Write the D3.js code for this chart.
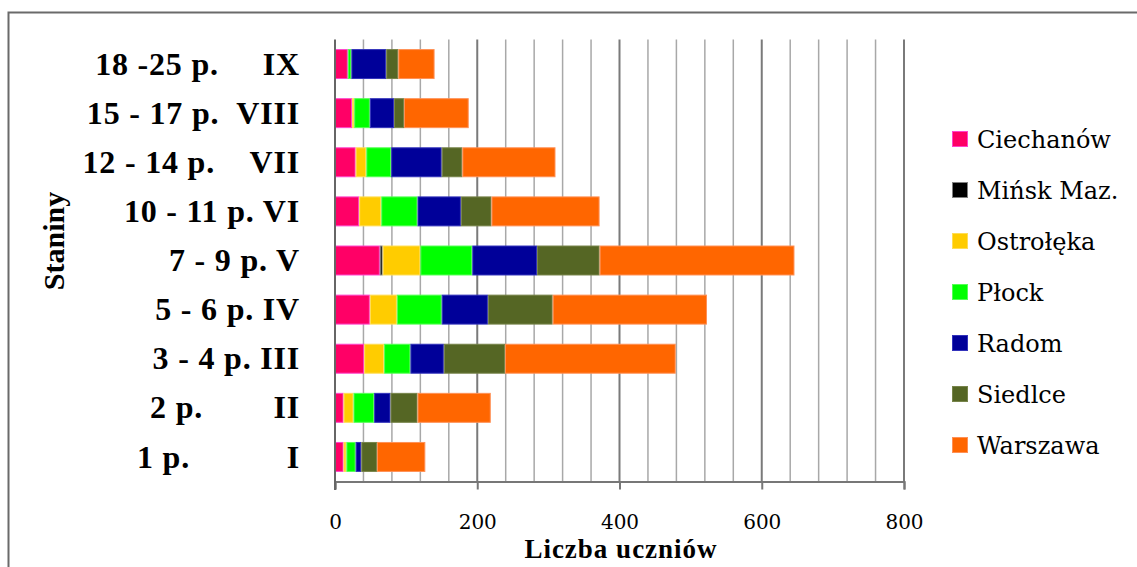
<!DOCTYPE html>
<html>
<head>
<meta charset="utf-8">
<script src="https://cdn.jsdelivr.net/npm/d3@7"></script>
<style>
  body { margin: 0; background: #fff; }
  svg text { font-family: "Liberation Serif", "DejaVu Serif", "Times New Roman", serif; }
  svg text.reg { font-family: "DejaVu Serif", serif; }
</style>
</head>
<body>
<div id="chart"></div>
<script>
const width = 1137, height = 567;

// categories, top to bottom
const categories = [
  "18 -25 p.     IX",
  "15 - 17 p.  VIII",
  "12 - 14 p.    VII",
  "10 - 11 p. VI",
  "7 - 9 p. V",
  "5 - 6 p. IV",
  "3 - 4 p. III",
  "2 p.        II",
  "1 p.           I"
];
const seriesNames = ["Ciechanów", "Mińsk Maz.", "Ostrołęka", "Płock", "Radom", "Siedlce", "Warszawa"];

// values per series, same order as categories (IX .. I)
const ciechanow = [18, 24, 29, 34, 63, 49, 41, 12, 12];
const minsk     = [0, 0, 0, 0, 4, 0, 0, 0, 0];
const ostroleka = [0, 3, 15, 31, 53, 38, 28, 14, 4];
const plock     = [5, 22, 35, 51, 73, 63, 37, 29, 13];
const radom     = [49, 34, 71, 61, 91, 65, 47, 23, 8];
const siedlce   = [17, 14, 29, 43, 88, 91, 86, 38, 22];
const warszawa  = [51, 91, 131, 152, 274, 217, 240, 103, 68];

const xTicks = [0, 200, 400, 600, 800];

const colors  = ["#FF0066", "#000000", "#FFCC00", "#00FF00", "#000099", "#556624", "#FF6600"];
const strokes = ["#FF44CC", "#808080", "#FFDD55", "#55FF55", "#3333BB", "#77844A", "#FF9055"];

const seriesValues = [ciechanow, minsk, ostroleka, plock, radom, siedlce, warszawa];

const table = categories.map((c, i) => {
  const row = { cat: c };
  seriesNames.forEach((s, j) => row[s] = seriesValues[j][i]);
  return row;
});
const stacked = d3.stack().keys(seriesNames)(table);

const svg = d3.select("#chart")
  .append("svg")
  .attr("width", width)
  .attr("height", height);

// outer frame (only top and left visible)
svg.append("path")
  .attr("d", "M8.5,567 V12.5 H1137")
  .attr("fill", "none")
  .attr("stroke", "#6a6a6a")
  .attr("stroke-width", 2);

const x = d3.scaleLinear().domain([0, 800]).range([335, 904]);
const y = d3.scaleBand().domain(categories).range([39.5, 481.5])
  .paddingInner(0.39).paddingOuter(0.195);

// gridlines every 40
const grid = d3.range(40, 801, 40);
svg.append("g").selectAll("line")
  .data(grid)
  .enter()
  .append("line")
  .attr("x1", d => x(d)).attr("x2", d => x(d))
  .attr("y1", 39.5).attr("y2", 481.5)
  .attr("stroke", d => d % 200 === 0 ? "#7a7a7a" : "#a8a8a8")
  .attr("stroke-width", d => d % 200 === 0 ? 2 : 1.5);

// bars
svg.append("g").selectAll("g")
  .data(stacked)
  .enter()
  .append("g")
  .attr("fill", (d, i) => colors[i])
  .attr("stroke", (d, i) => strokes[i])
  .selectAll("rect")
  .data(d => d.filter(p => p[1] - p[0] > 0))
  .enter()
  .append("rect")
  .attr("x", d => x(d[0]) + 0.5)
  .attr("y", d => y(d.data.cat) + 0.5)
  .attr("width", d => Math.max(0, x(d[1]) - x(d[0]) - 1))
  .attr("height", y.bandwidth() - 1)
  .attr("stroke-width", 1);

// x axis
const xAxis = svg.append("g")
  .attr("transform", "translate(0,481.5)")
  .call(d3.axisBottom(x).tickValues(xTicks).tickSize(8).tickPadding(25).tickFormat(d3.format("d")));
xAxis.attr("font-family", null);
xAxis.select(".domain").attr("stroke", "#777").attr("stroke-width", 2);
xAxis.selectAll(".tick line").attr("stroke", "#777").attr("stroke-width", 2);
xAxis.selectAll(".tick text")
  .attr("class", "reg")
  .attr("font-size", 20)
  .attr("fill", "#000");

// y axis
const yAxis = svg.append("g")
  .attr("transform", "translate(335,0)")
  .call(d3.axisLeft(y).tickSize(0).tickPadding(35));
yAxis.attr("font-family", null);
yAxis.select(".domain").attr("stroke", "#666").attr("stroke-width", 2)
  .attr("d", "M0,39.5V490");
yAxis.selectAll(".tick text")
  .attr("font-size", 32)
  .attr("font-weight", "bold")
  .attr("fill", "#000")
  .style("white-space", "pre")
  .style("letter-spacing", "0.8px")
  .attr("dy", "0.33em");

// axis titles
svg.append("text")
  .attr("x", 621).attr("y", 558)
  .attr("text-anchor", "middle")
  .attr("font-size", 27)
  .attr("font-weight", "bold")
  .style("letter-spacing", "1px")
  .text("Liczba uczniów");

svg.append("text")
  .attr("transform", "translate(64,241) rotate(-90)")
  .attr("text-anchor", "middle")
  .attr("font-size", 30)
  .attr("font-weight", "bold")
  .text("Staniny");

// legend
const legend = svg.append("g").selectAll("g")
  .data(seriesNames)
  .enter()
  .append("g")
  .attr("transform", (d, i) => `translate(952,${139 + i * 51})`);

legend.append("rect")
  .attr("x", 0.5).attr("y", -7.5)
  .attr("width", 15).attr("height", 15)
  .attr("fill", (d, i) => colors[i])
  .attr("stroke", (d, i) => strokes[i]);

legend.append("text")
  .attr("class", "reg")
  .attr("x", 25).attr("y", 0)
  .attr("dy", "0.36em")
  .attr("font-size", 24)
  .text(d => d);
</script>
</body>
</html>
